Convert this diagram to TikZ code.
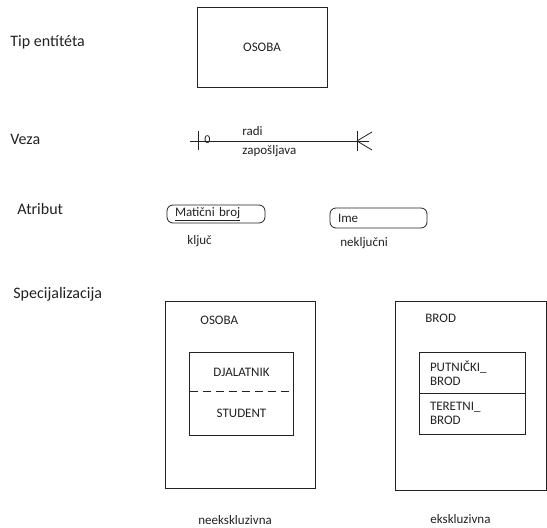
\documentclass[tikz,border=0pt]{standalone}
\usepackage{fontspec}
\setmainfont{Carlito}
\usepackage{tikz}
\usetikzlibrary{positioning}
\definecolor{ink}{HTML}{222222}

\begin{document}
\begin{tikzpicture}[
    x=1pt, y=-1pt,
    line width=0.8pt, draw=ink, text=ink,
    heading/.style={%
      anchor=west,
      inner sep=0pt,
      font=\fontsize{16}{18}\selectfont,
    },
    label/.style={%
      anchor=west,
      inner sep=0pt,
      font=\fontsize{13}{14.5}\selectfont,
    },
    entity/.style={%
      draw,
      rectangle,
      font=\fontsize{13}{14.5}\selectfont,
    },
    attr/.style={%
      draw,
      rounded corners=6pt,
      align=left,
      inner xsep=8pt,
      inner ysep=0pt,
      font=\fontsize{13}{14.5}\selectfont,
    },
    part/.style={%
      rectangle,
      inner sep=0pt,
      font=\fontsize{13}{14.5}\selectfont,
    },
  ]
    \useasboundingbox (0,0) rectangle (547,528);

    % headings
    \node [heading] (hTip) at (10,42) {Tip entítéta};
    \node [heading] (hVeza) at (10,139) {Veza};
    \node [heading] (hAtr) at (17,209) {Atribut};
    \node [heading] (hSpec) at (13,294) {Specijalizacija};

    % entity type
    \node [entity, minimum width=130pt, minimum height=80pt] (osoba) at (262,47) {OSOBA};

    % relationship
    \coordinate (rL) at (190,141);
    \coordinate (rR) at (369,141);
    \coordinate (tick) at (198,141);
    \coordinate (foot) at (357,141);
    \draw (rL) -- (rR);
    \draw (tick) ++(0,-10) -- ++(0,19);
    \draw (foot) ++(0,-10) -- ++(0,20);
    \draw (foot) -- ++(15,-9);
    \draw (foot) -- ++(15,9);
    \node [label, font=\fontsize{12}{14}\selectfont] (zero) at (204,140) {0};
    \node [label] (radi) at (242,131) {radi};
    \node [label] (zap) at (242,151) {zapošljava};

    % attributes
    \node [attr, text width=82pt, minimum height=18pt] (mbr) at (216,214) {\underline{Matični broj}};
    \node [attr, text width=81pt, minimum height=20pt] (ime) at (378.5,218) {Ime};
    \node [label] (kljuc) at (187,241) {ključ};
    \node [label] (nekljuc) at (340,243) {neključni};

    % specialization, non-exclusive
    \node [entity, minimum width=150pt, minimum height=187pt] (spA) at (240,394.5) {};
    \node [label] (osobaB) at (200,320) {OSOBA};
    \node [part, minimum width=103pt, minimum height=38pt] (djel) at (241.5,372) {DJALATNIK};
    \node [part, minimum width=103pt, minimum height=44pt] (stud) at (241.5,413) {STUDENT};
    \draw (djel.north west) rectangle (stud.south east);
    \draw [dashed, dash pattern=on 8pt off 5pt] (djel.south west) -- (djel.south east);
    \node [label] (neeks) at (198,520) {neekskluzivna};

    % specialization, exclusive
    \node [entity, minimum width=151pt, minimum height=189pt] (spB) at (470.5,395.5) {};
    \node [label] (brod) at (425,318) {BROD};
    \node [part, align=left, text width=85pt, inner xsep=10pt, minimum height=40pt] (putn) at (472.5,373) {PUTNIČKI\_\\BROD};
    \node [part, align=left, text width=85pt, inner xsep=10pt, minimum height=41pt] (ter) at (472.5,413.5) {TERETNI\_\\BROD};
    \draw (putn.north west) rectangle (ter.south east);
    \draw (putn.south west) -- (putn.south east);
    \node [label] (eks) at (430,519) {ekskluzivna};
\end{tikzpicture}
\end{document}
